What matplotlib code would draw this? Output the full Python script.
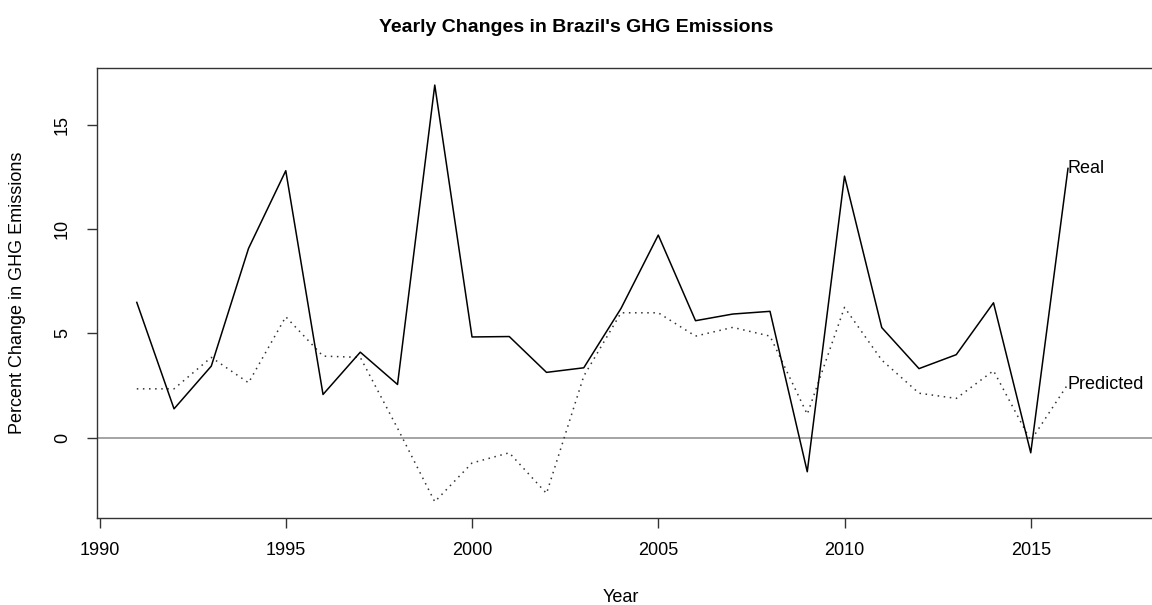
import matplotlib
matplotlib.use("Agg")
import matplotlib.pyplot as plt

plt.rcParams['font.family'] = ['Liberation Sans', 'DejaVu Sans']

years = list(range(1991, 2017))
real = [6.49, 1.38, 3.43, 9.08, 12.81, 2.07, 4.10, 2.55, 16.92, 4.83,
        4.85, 3.13, 3.35, 6.2, 9.72, 5.61, 5.93, 6.06, -1.64, 12.55,
        5.28, 3.31, 3.98, 6.47, -0.73, 12.92]
predicted = [2.34, 2.34, 3.85, 2.63, 5.80, 3.91, 3.85, 0.45, -3.08, -1.22,
             -0.73, -2.68, 2.95, 5.99, 5.99, 4.87, 5.29, 4.87, 1.12, 6.25,
             3.72, 2.13, 1.88, 3.21, -0.15, 2.57]
xticks = [1990, 1995, 2000, 2005, 2010, 2015]
yticks = [0, 5, 10, 15]

W, H = 1152, 605
fig = plt.figure(figsize=(W / 100, H / 100), dpi=100)
# axes box: left 97.3px, top 68px, bottom 518px, right runs off the canvas
ax = fig.add_axes([97.3 / W, 1 - 518 / H, (1160 - 97.3) / W, (518 - 68) / H])

ax.axhline(0, color='#8c8c8c', lw=1.1, zorder=1)
ax.plot(years, real, color='black', lw=1.1, zorder=3)
ax.plot(years, predicted, color='#333333', lw=1.1, linestyle=(0, (1, 3)), zorder=2)

ax.text(years[-1], real[-1], 'Real', fontsize=13, ha='left', va='center')
ax.text(years[-1], predicted[-1], 'Predicted', fontsize=13, ha='left', va='center')

ax.set_xlim(1989.94, 2018.47)
ax.set_ylim(-3.86, 17.74)
ax.set_xticks(xticks)
ax.set_yticks(yticks)
ax.set_yticklabels([str(t) for t in yticks], rotation=90, va='center')
ax.tick_params(direction='out', length=7, width=1, labelsize=13, color='#333333')
ax.tick_params(axis='x', pad=10)
ax.tick_params(axis='y', pad=12)

for s in ax.spines.values():
    s.set_color('#333333')
    s.set_linewidth(1)

fig.text(576 / W, 1 - 27 / H, "Yearly Changes in Brazil's GHG Emissions",
         fontsize=14, fontweight='bold', ha='center', va='center')
fig.text(621 / W, 1 - 597 / H, 'Year', fontsize=13, ha='center', va='center')
fig.text(18 / W, 1 - 293 / H, 'Percent Change in GHG Emissions', fontsize=13,
         rotation=90, ha='center', va='center')

fig.savefig('out.png', dpi=100)
